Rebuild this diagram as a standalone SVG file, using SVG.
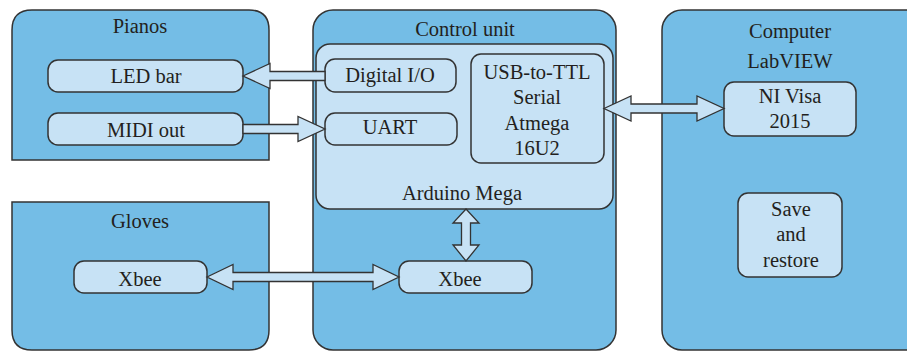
<svg xmlns="http://www.w3.org/2000/svg" width="907" height="351" viewBox="0 0 907 351">
<style>
.outer{fill:#74BDE6;stroke:#333;stroke-width:1.5}
.inner{fill:#C7E2F5;stroke:#333;stroke-width:1.5}
.arr{fill:#C7E2F5;stroke:#333;stroke-width:1.3;stroke-linejoin:miter}
text{font-family:"Liberation Serif","Times New Roman",serif;font-size:20.5px;fill:#231F20;text-anchor:middle}
</style>
<rect width="907" height="351" fill="#fff"/>
<g id="pianos">
<path class="outer" d="M12,160 V30 Q12,10 32,10 H249 Q269,10 269,30 V160 Z"/>
<text x="140" y="33">Pianos</text>
</g>
<g id="gloves">
<path class="outer" d="M12,202 H269 V330 Q269,350 249,350 H32 Q12,350 12,330 Z"/>
<text x="140" y="228">Gloves</text>
</g>
<g id="control-unit">
<rect class="outer" x="313" y="10" width="303" height="340" rx="20"/>
<text x="465" y="36">Control unit</text>
</g>
<g id="computer">
<rect class="outer" x="662" y="10" width="270" height="340" rx="20"/>
<text x="790" y="38">Computer</text>
<text x="790" y="68">LabVIEW</text>
</g>
<g id="arduino-mega">
<rect class="inner" x="316" y="44" width="297" height="165" rx="14"/>
<text x="462" y="200">Arduino Mega</text>
</g>
<g id="led-bar">
<rect class="inner" x="48" y="60" width="195" height="32" rx="10"/>
<text x="146" y="83">LED bar</text>
</g>
<g id="midi-out">
<rect class="inner" x="48" y="113" width="195" height="32" rx="10"/>
<text x="146" y="137">MIDI out</text>
</g>
<g id="digital-io">
<rect class="inner" x="325" y="59" width="131" height="33" rx="10"/>
<text x="390" y="82">Digital I/O</text>
</g>
<g id="uart">
<rect class="inner" x="325" y="113" width="132" height="32" rx="10"/>
<text x="390" y="134">UART</text>
</g>
<g id="usb-ttl">
<rect class="inner" x="471" y="54" width="133" height="109" rx="10"/>
<text x="537" y="79">USB-to-TTL</text>
<text x="537" y="104">Serial</text>
<text x="537" y="130">Atmega</text>
<text x="537" y="155">16U2</text>
</g>
<g id="ni-visa">
<rect class="inner" x="724" y="82" width="132" height="54" rx="10"/>
<text x="790" y="103">NI Visa</text>
<text x="790" y="128">2015</text>
</g>
<g id="save-restore">
<rect class="inner" x="738" y="193" width="104" height="84" rx="10"/>
<text x="791" y="216">Save</text>
<text x="791" y="241">and</text>
<text x="791" y="267">restore</text>
</g>
<g id="xbee-gloves">
<rect class="inner" x="74" y="261" width="133" height="32" rx="10"/>
<text x="140" y="286">Xbee</text>
</g>
<g id="xbee-control">
<rect class="inner" x="399" y="261" width="133" height="32" rx="10"/>
<text x="460" y="286">Xbee</text>
</g>
<g id="connectors">
<polygon class="arr" points="243,76 270,63.5 270,71.5 325,71.5 325,80.5 270,80.5 270,88.5"/>
<polygon class="arr" points="243,124.5 298,124.5 298,116.5 325,129 298,141.5 298,133.5 243,133.5"/>
<polygon class="arr" points="604,108.5 631,96 631,104 697,104 697,96 724,108.5 697,121 697,113 631,113 631,121"/>
<polygon class="arr" points="207,277 233,264.5 233,272.5 373,272.5 373,264.5 399,277 373,289.5 373,281.5 233,281.5 233,289.5"/>
<polygon class="arr" points="466,209 479,223 470.5,223 470.5,245 479,245 466,261 453,245 461.5,245 461.5,223 453,223"/>
</g>
</svg>
